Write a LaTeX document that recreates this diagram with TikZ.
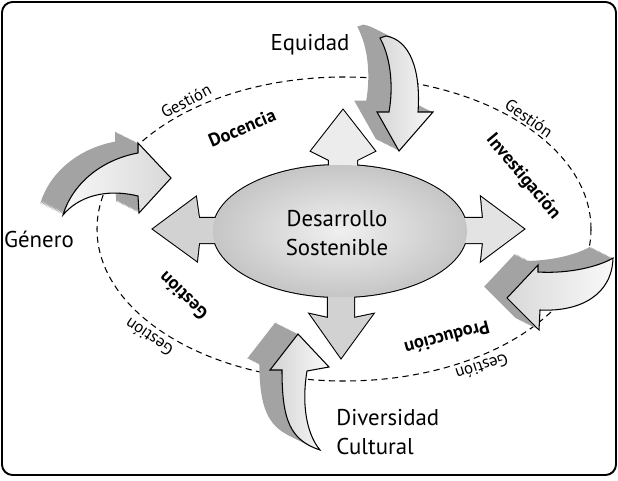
\documentclass[tikz,border=0pt]{standalone}
\usepackage{fontspec}
\setmainfont{PT Sans}

% arms of the central cross (pixel coordinates, y downwards)
\newcommand{\armup}{(329,185) -- (329,160) -- (311,151) -- (343,110) -- (375,151) -- (357,160) -- (357,185) -- cycle}
\newcommand{\armdown}{(328,280) -- (328,318) -- (310,314) -- (341,358) -- (373,314) -- (354,318) -- (354,280) -- cycle}
\newcommand{\armleft}{(235,218) -- (199,218) -- (196,197) -- (153,229) -- (197,261) -- (199,243) -- (235,243) -- cycle}
\newcommand{\armright}{(445,218) -- (483,218) -- (481,197) -- (524,229) -- (481,261) -- (483,243) -- (445,243) -- cycle}
\newcommand{\hubpath}{(340,231) ellipse [x radius=127, y radius=66]}

% front faces of the bent arrows
\newcommand{\equidadface}{(380,38) .. controls (392,60) and (393,90) .. (389,112) -- (377,112) -- (399,151) -- (433,112) -- (418,112) .. controls (421,70) and (410,40) .. (386,36) -- cycle}
\newcommand{\generoface}{(63,215) .. controls (72,185) and (100,160) .. (138,153) -- (138,143) -- (171,178) -- (139,213) -- (138,196) .. controls (105,188) and (78,197) .. (63,215) -- cycle}
\newcommand{\derechaface}{(613,258) .. controls (600,266) and (570,274) .. (538,272) -- (538,265) -- (507,298) -- (539,330) -- (540,310) .. controls (580,312) and (612,295) .. (613,258) -- cycle}
\newcommand{\diversidadface}{(282,370) -- (270,370) -- (298,334) -- (329,367) -- (307,371) .. controls (302,400) and (305,432) .. (320,450) .. controls (290,440) and (282,420) .. (282,370) -- cycle}

\begin{document}
\begin{tikzpicture}[
    x=0.02cm, y=-0.02cm, % one unit = one pixel of the sketch
    edgeline/.style={line width=0.6pt},
    darkside/.style={fill=gray!72},
    thinword/.style={font=\fontsize{9.5}{11}\selectfont, inner sep=0pt},
    boldword/.style={font=\fontsize{10.5}{12}\selectfont\bfseries, inner sep=0pt},
    bigword/.style={font=\fontsize{13}{16}\selectfont, inner sep=0pt}
]

    \useasboundingbox (0,0) rectangle (618,480);

    % Frame
    \draw[line width=1.1pt, rounded corners=6pt] (2,2) rectangle (616,475);

    % Dashed orbit
    \draw[dash pattern=on 3.5pt off 2.5pt, line width=0.6pt] (344,229) ellipse [x radius=247, y radius=152];

    % Central cross: thick outline first, fills on top keep the outer rim
    \draw[line width=1.2pt] \armup;
    \draw[line width=1.2pt] \armdown;
    \draw[line width=1.2pt] \armleft;
    \draw[line width=1.2pt] \armright;
    \draw[line width=1.2pt] \hubpath;
    \fill[gray!15] \armup;
    \fill[gray!35] \armdown;
    \fill[gray!35] \armleft;
    \fill[gray!22] \armright;
    \shade[inner color=gray!12, outer color=gray!45] \hubpath;

    % Bent arrows: dark side swept up-left, front face on top
    \foreach \t in {0.05,0.1,...,1}
        \fill[darkside, shift={(-24*\t,-12*\t)}] \equidadface;
    \shade[left color=gray!32, right color=gray!6] \equidadface;
    \draw[edgeline] \equidadface;

    \foreach \t in {0.05,0.1,...,1}
        \fill[darkside, shift={(-24*\t,-12*\t)}] \generoface;
    \shade[left color=gray!6, right color=gray!30] \generoface;
    \draw[edgeline] \generoface;

    \foreach \t in {0.05,0.1,...,1}
        \fill[darkside, shift={(-24*\t,-12*\t)}] \derechaface;
    \shade[left color=gray!30, right color=gray!5] \derechaface;
    \draw[edgeline] \derechaface;

    \foreach \t in {0.05,0.1,...,1}
        \fill[darkside, shift={(-24*\t,-12*\t)}] \diversidadface;
    \shade[left color=gray!35, right color=gray!4] \diversidadface;
    \draw[edgeline] \diversidadface;

    % Big labels
    \node[bigword] (equidad) at (310,45) {Equidad};
    \node[bigword] (genero) at (39,239) {Género};
    \node[bigword, align=center] (desarrollo) at (337,233) {Desarrollo\\Sostenible};
    \node[bigword, align=left, anchor=west] (diversidad) at (336,432) {Diversidad\\[1pt]Cultural};

    % Words along the orbit
    \node[thinword, rotate=28] (gestionA) at (186,101) {Gestión};
    \node[boldword, rotate=23] (docencia) at (242,128) {Docencia};
    \node[thinword, rotate=-35] (gestionB) at (529,118) {Gestión};
    \node[boldword, rotate=-50] (investigacion) at (523,177) {Investigación};
    \node[boldword, rotate=136] (gestionC) at (183,296) {Gestión};
    \node[thinword, rotate=146] (gestionD) at (149,337) {Gestión};
    \node[boldword, rotate=195] (produccion) at (447,338) {Producción};
    \node[thinword, rotate=198] (gestionE) at (482,367) {Gestión};

\end{tikzpicture}
\end{document}
